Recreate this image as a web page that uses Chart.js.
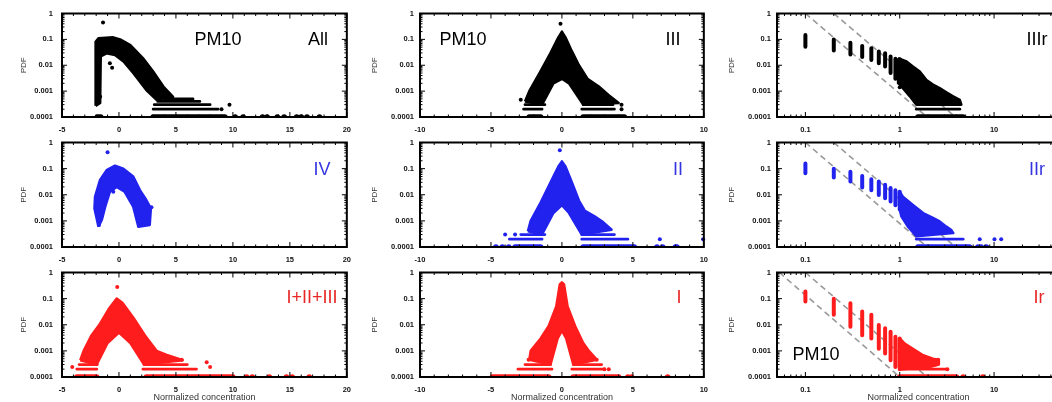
<!DOCTYPE html>
<html>
<head>
<meta charset="utf-8">
<title>PM10 PDF</title>
<script src="https://cdn.jsdelivr.net/npm/chart.js@4.4.1/dist/chart.umd.min.js"></script>
<style>
  html, body { margin: 0; background: #fff; }
  body { position: relative; width: 1052px; height: 402px; overflow: hidden; font-family: "Liberation Sans", Arial, sans-serif; }
  canvas { position: absolute; }
  .tag { position: absolute; font-size: 18px; line-height: 1; transform: translate(-50%, -50%); white-space: nowrap; }
</style>
</head>
<body>
<script>
// axis ticks
const yTicks = [0.0001, 0.001, 0.01, 0.1, 1];
const yTickLabels = ['0.0001', '0.001', '0.01', '0.1', '1'];
const xTicksWide = [-5, 0, 5, 10, 15, 20];
const xTicksMid = [-10, -5, 0, 5, 10];
const xTicksLog = [0.1, 1, 10];
const xTickLabelsLog = ['0.1', '1', '10'];

// dense parts are outlines [x, pdf]; runs are rows of points [x1, x2, pdf]; dots are single points
const allCloud = [[-2.05, 2.7e-4], [-2.05, 0.08], [-1.8, 0.11], [-0.5, 0.12], [0.1, 0.1], [1.0, 0.06], [2.1, 0.019], [3.0, 0.0057], [3.9, 0.0015], [4.75, 6e-4],
  [3.3, 4.6e-4], [2.4, 0.0011], [1.25, 0.005], [0.4, 0.014], [-0.35, 0.025], [-1.1, 0.029], [-1.6, 0.022], [-1.65, 3.5e-4]];
const allRuns = [[-1.9, -1.6, 1e-4], [3.0, 9.3, 1e-4], [3.0, 8.7, 2e-4], [3.1, 8.0, 3e-4], [3.4, 7.1, 4e-4], [4.0, 6.5, 5e-4]];
const allDots = [[-1.4, 0.45], [-0.8, 0.012], [-0.6, 0.008], [-1.65, 6e-4], [9.7, 3e-4], [9.0, 2e-4],
  [10.2, 1e-4], [10.9, 1e-4], [12.6, 1e-4], [13.0, 1e-4], [13.9, 1e-4], [14.5, 1e-4], [15.6, 1e-4], [16.0, 1e-4], [16.5, 1e-4], [17.6, 1e-4]];

const iiiCloud = [[-2.6, 4e-4], [-2.3, 0.001], [-1.5, 0.006], [-0.8, 0.03], [-0.25, 0.12], [0, 0.2], [0.25, 0.12], [0.7, 0.035], [1.2, 0.01], [1.8, 0.003], [2.6, 0.0015], [3.3, 7e-4], [4.0, 3.5e-4],
  [1.5, 3e-4], [0.5, 0.002], [0, 0.003], [-0.6, 0.002], [-1.4, 3e-4]];
const iiiRuns = [[-2.3, -1.5, 1e-4], [1.5, 4.4, 1e-4], [-2.7, -1.4, 2e-4], [1.4, 3.7, 2e-4], [-2.6, -1.2, 3e-4], [1.5, 3.6, 3e-4]];
const iiiDots = [[-0.1, 0.4], [-2.9, 4.6e-4], [4.2, 2e-4], [4.2, 3e-4]];

const ivCloud = [[-1.8, 6e-4], [-2.15, 0.003], [-2.1, 0.0085], [-1.66, 0.037], [-1.08, 0.088], [-0.35, 0.13], [0.38, 0.1], [1.25, 0.05], [1.84, 0.015], [2.4, 0.0063], [2.8, 0.003], [2.7, 7e-4],
  [1.7, 6e-4], [1.25, 0.0035], [0.5, 0.013], [-0.2, 0.02], [-0.8, 0.013], [-1.2, 0.0036], [-1.5, 0.0011]];
const ivRuns = [];
const ivDots = [[-1.0, 0.42], [-0.5, 0.013], [2.85, 0.0033], [-1.75, 7e-4]];

const iiCloud = [[-2.4, 4e-4], [-2.2, 0.001], [-1.5, 0.005], [-0.8, 0.03], [-0.25, 0.12], [0, 0.19], [0.25, 0.12], [0.7, 0.03], [1.2, 0.006], [1.6, 0.0025], [2.3, 0.0015], [2.9, 9e-4], [3.5, 4.6e-4],
  [1.4, 3e-4], [0.5, 0.002], [0, 0.004], [-0.6, 0.002], [-1.4, 3e-4]];
const iiRuns = [[-3.3, -1.5, 1e-4], [1.5, 5.1, 1e-4], [-3.7, -1.4, 2e-4], [1.4, 4.65, 2e-4], [-2.9, -1.2, 3e-4], [1.4, 3.7, 3e-4]];
const iiDots = [[-0.15, 0.5], [-4.65, 1e-4], [-4.2, 1e-4], [-3.75, 1e-4], [6.7, 1e-4], [7.1, 1e-4], [8.0, 1e-4], [8.1, 1e-4], [6.9, 2e-4], [9.95, 2e-4], [-4.0, 3e-4], [-3.3, 3e-4]];

const mixCloud = [[-3.4, 4.4e-4], [-3.1, 0.001], [-2.4, 0.004], [-1.66, 0.011], [-0.9, 0.04], [-0.2, 0.1], [0.3, 0.07], [1.25, 0.019], [2.4, 0.0033], [3.3, 0.001], [4.2, 7e-4], [5.6, 4.4e-4],
  [2.2, 3e-4], [1.0, 0.002], [0, 0.005], [-1.0, 0.002], [-1.95, 3e-4]];
const mixRuns = [[-3.7, -1.95, 1e-4], [2.4, 10, 1e-4], [-3.7, -1.95, 2e-4], [2.1, 6.8, 2e-4], [-3.5, -1.9, 3e-4], [2.2, 6.0, 3e-4]];
const mixDots = [[-0.15, 0.28], [-4.1, 2.4e-4], [7.7, 3.7e-4], [8.0, 2.4e-4], [5.5, 4.6e-4], [11.2, 1e-4], [11.7, 1e-4], [13.2, 1e-4], [14.7, 1e-4], [15.2, 1e-4], [16.7, 1e-4]];

const iCloud = [[-2.3, 4.6e-4], [-2.2, 0.001], [-1.5, 0.003], [-0.93, 0.009], [-0.4, 0.05], [-0.15, 0.35], [0, 0.42], [0.15, 0.35], [0.4, 0.05], [0.93, 0.009], [1.5, 0.002], [1.9, 0.001], [2.45, 4.6e-4],
  [0.8, 3e-4], [0.3, 0.003], [0, 0.006], [-0.3, 0.003], [-0.8, 3e-4]];
const iRuns = [[-4.9, -0.93, 1e-4], [0.8, 4.0, 1e-4], [-3.1, -0.7, 2e-4], [0.7, 3.0, 2e-4], [-2.6, -0.8, 3e-4], [0.8, 2.8, 3e-4]];
const iDots = [[4.65, 1e-4], [4.9, 1e-4], [7.45, 1e-4], [2.45, 4.6e-4], [-2.35, 4.6e-4], [3.0, 2e-4], [3.3, 2e-4]];

// rank plots: one column of points per bin, then a dense tail
const rankBins = [0.1, 0.2, 0.3, 0.4, 0.5, 0.6, 0.7, 0.8, 0.9, 1.0];
const iiirHi = [0.147, 0.1, 0.074, 0.055, 0.045, 0.034, 0.029, 0.022, 0.018, 0.017];
const iiirLo = [0.052, 0.037, 0.026, 0.021, 0.016, 0.012, 0.009, 0.005, 0.003, 0.002];
const iiirCloud = [[0.96, 0.0186], [1.18, 0.014], [1.38, 0.0089], [1.63, 0.0057], [1.92, 0.0027], [2.25, 0.0018], [2.65, 0.0013], [3.12, 9e-4], [3.68, 6.3e-4], [4.33, 4.6e-4], [4.5, 3e-4],
  [1.5, 3e-4], [1.28, 6.3e-4], [1.08, 0.0013], [0.98, 0.002]];
const iiirRuns = [[1.5, 4.33, 2e-4], [1.56, 4.7, 1e-4]];
const iiirDots = [[1.0, 0.0027], [1.0, 0.0014]];

const iirHi = [0.158, 0.1, 0.076, 0.052, 0.039, 0.032, 0.024, 0.018, 0.015, 0.013];
const iirLo = [0.066, 0.046, 0.032, 0.019, 0.015, 0.0098, 0.0074, 0.0055, 0.004, 0.0027];
const iirCloud = [[1.0, 0.013], [1.08, 0.0085], [1.38, 0.0041], [1.77, 0.002], [2.25, 0.0013], [2.65, 9.5e-4], [3.12, 6e-4], [3.5, 4.6e-4], [3.7, 3.4e-4],
  [1.5, 2.6e-4], [1.22, 6e-4], [1.04, 0.0015], [1.0, 0.0027]];
const iirRuns = [[1.5, 4.7, 2e-4], [1.56, 5.5, 1e-4]];
const iirDots = [[7.05, 2e-4], [10.1, 2e-4], [11.9, 2e-4], [6.75, 1e-4], [7.3, 1e-4], [8.3, 1e-4]];

const irHi = [0.186, 0.1, 0.066, 0.032, 0.024, 0.0098, 0.0073, 0.0054, 0.0035, 0.003];
const irLo = [0.077, 0.024, 0.0084, 0.004, 0.003, 0.0012, 8e-4, 4.4e-4, 2.4e-4, 2e-4];
const irCloud = [[1.0, 0.003], [1.13, 0.0019], [1.38, 0.0012], [1.77, 6.8e-4], [2.25, 5e-4], [2.55, 4.6e-4], [2.6, 3e-4],
  [2.08, 2.4e-4], [1.08, 2e-4], [1.0, 2e-4]];
const irRuns = [[1.0, 3.1, 2e-4], [1.0, 4.0, 1e-4]];
const irDots = [[2.55, 4.6e-4], [4.7, 1e-4], [7.6, 1e-4], [3.2, 2e-4]];

// power-law guide lines
const guideLow = [[0.1, 1], [1.95, 1e-4]];
const guideHigh = [[0.2, 1], [3.9, 1e-4]];
const guideIrLow = [[0.053, 1], [1.0, 1e-4]];
const guideIrHigh = [[0.1, 1], [1.95, 1e-4]];

const BLACK = '#000', BLUE = '#2222ee', RED = '#ff1c1c';

const cols = [
  {left: 62, right: 347, type: 'linear', min: -5, max: 20, ticks: xTicksWide, minor: 1, labelPad: 9, titlePad: 18.7},
  {left: 420, right: 704, type: 'linear', min: -10, max: 10, ticks: xTicksMid, minor: 1, labelPad: 6, titlePad: 12.2},
  {left: 777, right: 1060, type: 'logarithmic', min: 0.05, max: 50, ticks: xTicksLog, labels: xTickLabelsLog, labelPad: 6, titlePad: 12.2}
];
const rowsY = [{top: 13, bottom: 117}, {top: 142, bottom: 247}, {top: 272, bottom: 377}];

const panels = [
  {col: 0, row: 0, color: BLACK, cloud: allCloud, runs: allRuns, dots: allDots},
  {col: 1, row: 0, color: BLACK, cloud: iiiCloud, runs: iiiRuns, dots: iiiDots},
  {col: 2, row: 0, color: BLACK, cloud: iiirCloud, runs: iiirRuns, dots: iiirDots, lo: iiirLo, hi: iiirHi, guides: [guideLow, guideHigh]},
  {col: 0, row: 1, color: BLUE, cloud: ivCloud, runs: ivRuns, dots: ivDots},
  {col: 1, row: 1, color: BLUE, cloud: iiCloud, runs: iiRuns, dots: iiDots},
  {col: 2, row: 1, color: BLUE, cloud: iirCloud, runs: iirRuns, dots: iirDots, lo: iirLo, hi: iirHi, guides: [guideLow, guideHigh]},
  {col: 0, row: 2, color: RED, cloud: mixCloud, runs: mixRuns, dots: mixDots},
  {col: 1, row: 2, color: RED, cloud: iCloud, runs: iRuns, dots: iDots},
  {col: 2, row: 2, color: RED, cloud: irCloud, runs: irRuns, dots: irDots, lo: irLo, hi: irHi, guides: [guideIrLow, guideIrHigh]}
];

const tags = [
  ['PM10', 218, 39, BLACK], ['All', 318, 39, BLACK], ['PM10', 463, 39, BLACK], ['III', 673, 39, BLACK], ['IIIr', 1037, 39, BLACK],
  ['IV', 322, 169, '#3535e0'], ['II', 678, 169, '#3535e0'], ['IIr', 1037, 169, '#3535e0'],
  ['I+II+III', 312, 297, '#e82828'], ['I', 679, 297, '#e82828'], ['Ir', 1039, 297, '#e82828'], ['PM10', 816, 354, BLACK]
];

const pts = a => a.map(([x, y]) => ({x, y}));
const runs = a => a.flatMap(([x1, x2, y]) => [{x: x1, y}, {x: x2, y}, {x: x2, y: null}]);
const bars = (xs, lo, hi) => xs.flatMap((x, i) => [{x, y: lo[i]}, {x, y: hi[i]}, {x, y: null}]);

// gnuplot-like box with inward ticks on all four sides
const frame = {
  id: 'frame',
  afterDatasetsDraw(chart, args, o) {
    const {ctx, chartArea: a, scales: {x, y}} = chart;
    ctx.save();
    ctx.strokeStyle = '#000';
    ctx.lineWidth = 1;
    ctx.beginPath();
    const tickX = (v, len) => {
      const p = x.getPixelForValue(v);
      ctx.moveTo(p, a.bottom); ctx.lineTo(p, a.bottom - len);
      ctx.moveTo(p, a.top); ctx.lineTo(p, a.top + len);
    };
    const tickY = (v, len) => {
      const p = y.getPixelForValue(v);
      ctx.moveTo(a.left, p); ctx.lineTo(a.left + len, p);
      ctx.moveTo(a.right, p); ctx.lineTo(a.right - len, p);
    };
    yTicks.forEach(v => tickY(v, 5));
    yTicks.slice(0, -1).forEach(d => { for (let k = 2; k < 10; k++) tickY(d * k, 2.5); });
    if (o.log) {
      [0.01, 0.1, 1, 10].forEach(d => {
        for (let k = 1; k < 10; k++) {
          const v = d * k;
          if (v > x.min && v < x.max) tickX(v, k === 1 ? 5 : 2.5);
        }
      });
    } else {
      for (let v = x.min; v <= x.max; v += o.minor) tickX(v, v % 5 === 0 ? 5 : 2.5);
    }
    ctx.stroke();
    ctx.lineWidth = 2;
    ctx.strokeRect(a.left, a.top, a.width, a.height);
    ctx.restore();
  }
};

const tickFont = {family: '"Liberation Sans", Arial, sans-serif', size: 7.5, weight: 'bold'};

function config(p, c) {
  const col = p.color;
  const floor = yTicks[0];
  // the lowest row sits on the frame, so it gets a fatter stroke to show above it
  const lowRuns = p.runs.filter(r => r[2] <= floor);
  const upRuns = p.runs.filter(r => r[2] > floor);
  const lowDots = p.dots.filter(d => d[1] <= floor);
  const upDots = p.dots.filter(d => d[1] > floor);
  const datasets = [
    {data: pts(upDots), pointRadius: 2, pointBackgroundColor: col, pointBorderWidth: 0, showLine: false},
    {data: pts(lowDots), pointRadius: 2.8, pointBackgroundColor: col, pointBorderWidth: 0, showLine: false},
    {data: runs(upRuns), showLine: true, borderColor: col, borderWidth: 2.8, borderCapStyle: 'round', pointRadius: 0, spanGaps: false},
    {data: runs(lowRuns), showLine: true, borderColor: col, borderWidth: 5.5, borderCapStyle: 'round', pointRadius: 0, spanGaps: false},
    {data: pts(p.cloud.concat([p.cloud[0]])), showLine: true, fill: 'shape', backgroundColor: col, borderColor: col, borderWidth: 2.5, borderJoinStyle: 'round', pointRadius: 0}
  ];
  if (p.lo) {
    datasets.push({data: bars(rankBins, p.lo, p.hi), showLine: true, borderColor: col, borderWidth: 4, borderCapStyle: 'round', pointRadius: 0, spanGaps: false});
  }
  (p.guides || []).forEach(g => datasets.push({data: pts(g), showLine: true, borderColor: '#999', borderWidth: 1.6, borderDash: [6, 4], pointRadius: 0}));
  datasets.forEach(d => { d.clip = {left: 3, top: 3, right: 3, bottom: 0}; });

  return {
    type: 'scatter',
    data: {datasets},
    plugins: [frame],
    options: {
      responsive: false,
      maintainAspectRatio: false,
      animation: false,
      devicePixelRatio: 1,
      events: [],
      layout: {padding: {left: 0, right: 6, top: 8, bottom: 0}},
      plugins: {legend: {display: false}, tooltip: {enabled: false}, frame: {log: c.type === 'logarithmic', minor: c.minor}},
      scales: {
        x: {
          type: c.type, min: c.min, max: c.max, position: 'bottom',
          afterFit: s => { s.height = 25; },
          afterBuildTicks: s => { s.ticks = c.ticks.map(v => ({value: v})); },
          grid: {display: false, drawTicks: false},
          border: {display: false},
          ticks: {padding: 8, font: tickFont, color: '#111', maxRotation: 0, autoSkip: false,
            callback: (v, i) => c.labels ? c.labels[i] : String(c.ticks[i])},
          title: {display: p.row === 2, text: 'Normalized concentration', color: '#333',
            font: {family: '"Liberation Sans", Arial, sans-serif', size: 9, lineHeight: 1.1}, padding: {top: 0, bottom: 0}}
        },
        y: {
          type: 'logarithmic', min: 1e-4, max: 1,
          afterFit: s => { s.width = 62; },
          afterBuildTicks: s => { s.ticks = yTicks.map(v => ({value: v})); },
          grid: {display: false, drawTicks: false},
          border: {display: false},
          ticks: {padding: c.labelPad, font: tickFont, color: '#111', autoSkip: false,
            callback: (v, i) => yTickLabels[i]},
          title: {display: true, text: 'PDF', color: '#333',
            font: {family: '"Liberation Sans", Arial, sans-serif', size: 8, lineHeight: 1.2}, padding: {top: c.titlePad, bottom: 0}}
        }
      }
    }
  };
}

panels.forEach(p => {
  const c = cols[p.col], r = rowsY[p.row];
  const canvas = document.createElement('canvas');
  document.body.appendChild(canvas);
  const w = c.right - c.left + 68, h = r.bottom - r.top + 33;
  canvas.width = w; canvas.height = h;
  let chart = new Chart(canvas, config(p, c));
  let a = chart.chartArea;
  // grow the canvas by whatever the axis labels took, so the plot box lands on its exact size
  const dw = (c.right - c.left) - (a.right - a.left);
  const dh = (r.bottom - r.top) - (a.bottom - a.top);
  if (dw || dh) {
    chart.destroy();
    canvas.width = w + dw; canvas.height = h + dh;
    chart = new Chart(canvas, config(p, c));
    a = chart.chartArea;
  }
  canvas.style.left = (c.left - a.left) + 'px';
  canvas.style.top = (r.top - a.top) + 'px';
});

tags.forEach(([text, x, y, color]) => {
  const d = document.createElement('div');
  d.className = 'tag';
  d.textContent = text;
  d.style.left = x + 'px';
  d.style.top = y + 'px';
  d.style.color = color;
  document.body.appendChild(d);
});
</script>
</body>
</html>
